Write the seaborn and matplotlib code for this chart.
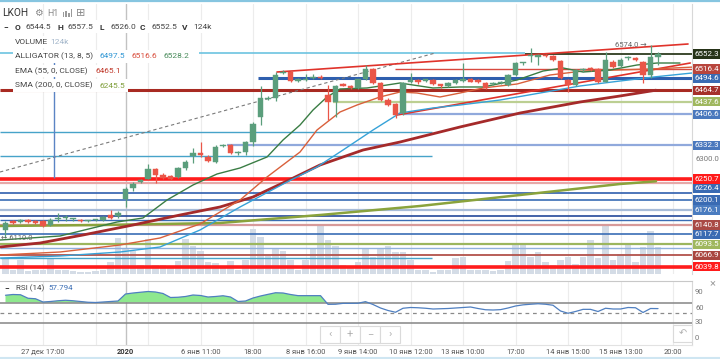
import matplotlib
matplotlib.use("Agg")
import matplotlib.pyplot as plt
import matplotlib.transforms as mtransforms
from matplotlib.patches import Rectangle
from matplotlib.lines import Line2D
import seaborn as sns
import numpy as np
import pandas as pd

# ---------------- data: LKOH hourly candles ----------------
opens = [6128, 6150, 6147, 6152, 6150, 6150, 6140, 6155, 6156, 6154,
         6151, 6150, 6152, 6152, 6164, 6162, 6204, 6229, 6245, 6252,
         6274, 6261, 6258, 6257, 6277, 6307, 6313, 6305, 6293, 6330,
         6334, 6313, 6317, 6341, 6401, 6445, 6446, 6506, 6510, 6488,
         6490, 6494, 6498, 6454, 6437, 6479, 6475, 6470, 6491, 6515,
         6482, 6442, 6432, 6409, 6486, 6490, 6487, 6490, 6479, 6474,
         6482, 6488, 6491, 6489, 6482, 6481, 6482, 6478, 6502, 6530,
         6548, 6546, 6550, 6548, 6536, 6490, 6478, 6513, 6518, 6515,
         6486, 6534, 6523, 6542, 6543, 6534, 6502, 6544.5]
highs = [6150, 6153, 6155, 6155, 6152, 6153, 6156, 6170, 6165, 6158,
         6154, 6153, 6155, 6162, 6176, 6173, 6232, 6243, 6252, 6286,
         6277, 6265, 6260, 6280, 6296, 6325, 6341, 6308, 6333, 6336,
         6336, 6318, 6343, 6388, 6474, 6450, 6510, 6514, 6513, 6494,
         6504, 6505, 6502, 6478, 6478, 6482, 6478, 6493, 6526, 6518,
         6485, 6446, 6435, 6486, 6507, 6493, 6493, 6492, 6481, 6485,
         6493, 6530, 6494, 6491, 6484, 6485, 6488, 6504, 6533, 6534,
         6566, 6553, 6553, 6550, 6539, 6493, 6517, 6519, 6522, 6518,
         6558, 6537, 6542, 6548, 6545, 6536, 6574, 6557.5]
lows = [6110, 6143, 6144, 6145, 6143, 6135, 6137, 6148, 6150, 6150,
        6147, 6147, 6149, 6150, 6155, 6158, 6184, 6222, 6242, 6250,
        6241, 6250, 6249, 6253, 6272, 6289, 6304, 6292, 6290, 6327,
        6311, 6310, 6310, 6330, 6381, 6442, 6440, 6503, 6485, 6485,
        6487, 6491, 6492, 6393, 6401, 6474, 6468, 6467, 6489, 6480,
        6440, 6428, 6398, 6405, 6483, 6481, 6484, 6478, 6471, 6472,
        6480, 6486, 6484, 6482, 6467, 6478, 6480, 6476, 6500, 6526,
        6534, 6526, 6544, 6535, 6492, 6461, 6475, 6510, 6512, 6483,
        6484, 6519, 6520, 6539, 6536, 6482, 6494, 6526]
closes = [6145, 6146, 6152, 6147, 6145, 6138, 6152, 6157, 6157, 6155,
          6150, 6151, 6153, 6160, 6158, 6170, 6226, 6240, 6249, 6274,
          6261, 6254, 6251, 6277, 6293, 6313, 6308, 6295, 6329, 6334,
          6313, 6315, 6341, 6384, 6446, 6447, 6502, 6510, 6488, 6491,
          6493, 6497, 6495, 6437, 6474, 6476, 6470, 6491, 6515, 6482,
          6442, 6430, 6405, 6482, 6490, 6484, 6491, 6480, 6474, 6482,
          6490, 6491, 6486, 6485, 6470, 6483, 6485, 6502, 6530, 6531,
          6550, 6550, 6547, 6538, 6494, 6478, 6514, 6516, 6516, 6486,
          6538, 6522, 6539, 6546, 6538, 6502, 6546, 6552.5]
volumes_k = [74, 18, 64, 14, 18, 18, 74, 18, 18, 14,
             9, 9, 14, 18, 55, 166, 120, 106, 41, 161,
             41, 41, 37, 60, 161, 129, 106, 55, 51, 37,
             60, 18, 64, 207, 170, 83, 115, 106, 64, 18,
             64, 120, 221, 156, 129, 41, 37, 55, 115, 78,
             120, 129, 101, 101, 64, 18, 18, 9, 18, 18,
             74, 78, 18, 18, 18, 14, 18, 60, 143, 143,
             78, 101, 55, 41, 64, 78, 46, 78, 156, 74,
             225, 64, 92, 143, 55, 124, 198, 124]
rsi14 = [84.5, 86, 85.5, 78.5, 77.5, 71, 72, 73.5, 74.5, 73.5,
         72, 70.5, 70, 71, 72, 73, 87, 89, 90.5, 92,
         91, 88, 80, 80.5, 82, 85, 84, 81, 82, 83.5,
         81, 72, 73, 79, 83, 86.3, 89.5, 89, 86, 83.7,
         83.7, 83.7, 83.7, 66.3, 66.5, 68.3, 68.3, 68.5, 71.7, 66,
         59, 54, 50.5, 58.5, 60, 59.5, 58.5, 57, 57.5, 58,
         59, 60, 61, 58, 55.5, 55, 55.7, 59, 63, 65.3,
         66.5, 67.5, 66.5, 64.5, 53, 48.5, 52, 56.3, 56.3, 52,
         58.5, 57, 57, 60, 59.5, 50, 58, 57.794]

time_tick_pos = [5, 16, 26, 33, 40, 47, 54, 61, 68, 75, 82, 89]
time_tick_labels = ['27 дек 17:00', '2020', '6 янв 11:00', '18:00', '8 янв 16:00',
                    '9 янв 14:00', '10 янв 12:00', '13 янв 10:00', '17:00',
                    '14 янв 15:00', '15 янв 13:00', '20:00']
grid_pos = [5, 12, 19, 26, 33, 40, 47, 54, 61, 68, 75, 82, 89]

# indicator curves (bar index, price)
lips_i = [-0.73, 7.27, 14.87, 18.33, 21.53, 25.0, 28.2, 31.27, 34.87, 37.0, 39.27, 41.0,
          42.87, 44.6, 48.2, 50.87, 52.6, 54.33, 57.0, 60.6, 63.67, 68.2, 71.67, 74.33,
          77.0, 80.6, 84.2, 86.87, 89.93]
lips_p = [6104.0, 6113.7, 6147.4, 6157.1, 6200.4, 6236.6, 6263.1, 6277.6, 6304.1, 6345.0,
          6381.2, 6417.3, 6448.7, 6468.0, 6470.4, 6477.6, 6482.4, 6477.6, 6470.4, 6472.8,
          6472.8, 6489.6, 6511.3, 6518.6, 6508.9, 6513.7, 6525.8, 6530.6, 6530.6]
teeth_i = [-0.73, 7.27, 15.27, 20.6, 25.93, 31.27, 34.87, 39.27, 41.53, 44.6, 46.87, 49.93,
           52.6, 54.87, 57.93, 60.6, 63.67, 68.2, 72.6, 77.0, 81.53, 86.73, 91.93]
teeth_p = [6067.9, 6075.1, 6092.0, 6108.9, 6142.6, 6200.4, 6255.9, 6316.1, 6369.1, 6412.5,
           6429.4, 6448.7, 6460.7, 6458.3, 6448.7, 6458.3, 6470.4, 6480.0, 6501.7, 6511.3,
           6513.7, 6516.6, 6521.0]
jaw_i = [-0.73, 7.27, 15.27, 20.6, 25.93, 31.27, 37.53, 41.53, 45.0, 49.0, 52.6, 57.0,
         60.6, 65.93, 71.27, 76.6, 81.93, 86.73, 91.53]
jaw_p = [6060.5, 6065.5, 6075.1, 6087.2, 6128.1, 6183.6, 6243.8, 6279.9, 6320.9, 6369.1,
         6410.1, 6422.2, 6429.4, 6441.4, 6458.3, 6475.2, 6487.2, 6497.5, 6506.5]
ema_i = [-0.73, 4.6, 10.33, 17.0, 23.27, 28.6, 33.0, 37.53, 41.93, 47.67, 52.6, 60.6,
         68.6, 76.6, 81.93, 86.73]
ema_p = [6087.2, 6096.8, 6116.1, 6140.2, 6164.3, 6183.6, 6207.7, 6246.2, 6284.8, 6320.9,
         6340.2, 6376.4, 6410.1, 6436.6, 6451.1, 6465.1]
sma_i = [-0.73, 12.6, 28.6, 41.93, 55.27, 68.6, 81.93, 86.73]
sma_p = [6137.8, 6140.2, 6145.0, 6164.3, 6186.0, 6212.5, 6239.0, 6245.5]

# horizontal drawing levels
level_prices = [6555.0, 6552.3, 6516.4, 6494.6, 6464.7, 6437.6, 6406.6, 6364.0, 6332.3,
                6306.0, 6250.7, 6240.5, 6218.0, 6200.1, 6176.1, 6162.0, 6152.0, 6140.8,
                6117.7, 6093.5, 6085.0, 6066.9, 6060.0, 6039.8]
# price-scale tags
tag_values = [6494.6, 6516.4, 6552.3, 6464.7, 6437.6, 6406.6, 6332.3, 6230.0, 6250.7,
              6200.1, 6176.1, 6117.7, 6140.8, 6093.5, 6066.9, 6039.8]
tag_texts = ['6494.6', '6516.4', '6552.3', '6464.7', '6437.6', '6406.6', '6332.3', '6226.4',
             '6250.7', '6200.1', '6176.1', '6117.7', '6140.8', '6093.5', '6066.9', '6039.8']
rsi_ticks = [90, 60, 30, 0]

# ---------------- styles ----------------
L_, R_ = -0.733, 91.53
level_styles = [
    (L_, 69.3, '#6cc3e0', 1.2), (69.3, R_, '#2d3b1f', 1.3), (51.9, R_, '#d8493f', 1.0),
    (33.7, R_, '#2f5fae', 2.2), (L_, R_, '#a82a22', 2.2), (43.7, R_, '#bccf92', 1.6),
    (52.2, R_, '#90a9dc', 1.6), (L_, 56.9, '#47a3c9', 1.0), (29.5, R_, '#90a9dc', 1.6),
    (L_, 56.9, '#47a3c9', 1.0), (L_, R_, '#ff1c1c', 2.6), (L_, R_, '#e6a9a9', 1.6),
    (L_, R_, '#2f5fae', 1.2), (L_, R_, '#3a6db5', 1.2), (L_, R_, '#a8bcd8', 1.6),
    (L_, R_, '#24489a', 1.2), (L_, R_, '#3a6db5', 1.0), (L_, R_, '#d79a9a', 1.6),
    (L_, R_, '#3a6db5', 1.2), (L_, R_, '#9cb65e', 1.6), (L_, R_, '#8fb0dc', 1.0),
    (L_, R_, '#b2524b', 1.3), (L_, 56.9, '#47a3c9', 1.0), (L_, R_, '#ff1c1c', 2.6)]
tag_colors = ['#3a6bb3', '#b8453d', '#263318', '#a5302a', '#9fb75e', '#4a78bd', '#4a78bd',
              '#3a6bb3', '#ff1a1a', '#3a6bb3', '#4a7cc0', '#3a6bb3', '#a94a45', '#9fb75e',
              '#a9463f', '#ff1a1a']

UP, DN = '#5b9e7c', '#ea5648'

sns.set_theme(style="white")
plt.rcParams['font.family'] = ['Roboto', 'DejaVu Sans']
plt.rcParams['axes.unicode_minus'] = False

W, H = 720, 359
fig = plt.figure(figsize=(W / 100, H / 100), dpi=100)
fig.patch.set_facecolor('white')


def box(x0, y0, x1, y1):
    return [x0 / W, 1 - y1 / H, (x1 - x0) / W, (y1 - y0) / H]


def fx(x):
    return x / W


def fy(y):
    return 1 - y / H


XLIM = (L_, R_)
YLIM = (6022.1, 6672.8)

axv = fig.add_axes(box(0, 4, 692, 274))
ax = fig.add_axes(box(0, 4, 692, 274))
axr = fig.add_axes(box(0, 281, 692, 345))
ax.set_facecolor('none')

df = pd.DataFrame({'i': np.arange(len(closes)), 'open': opens, 'high': highs, 'low': lows,
                   'close': closes, 'vol': volumes_k, 'rsi': rsi14})

# grid
for a in (axv, axr):
    for g in grid_pos:
        a.axvline(g, color='#ececec', lw=0.8, zorder=0)
    a.axvline(16, color='#c2c2c2', lw=1.0, zorder=0)

# volume
sns.barplot(x=df['i'], y=df['vol'], native_scale=True, ax=axv, color='#d4dce6',
            width=0.86, saturation=1, linewidth=0, zorder=1)
axv.set_ylim(0, 1242)
axv.set_xlim(*XLIM)

# levels
for p, (s, e, c, lw) in zip(level_prices, level_styles):
    ax.hlines(p, s, e, color=c, lw=lw, zorder=3)

# trend drawings
ax.plot([-0.733, 57.3], [6267.9, 6554.7], ls=(0, (3, 2.5)), color='#7a7a7a', lw=0.8, zorder=3)
ax.plot([36.2, 91.0], [6508.9, 6576.4], color='#e0332b', lw=1.2, zorder=3)
ax.plot([52.2, 91.3], [6405.3, 6530.6], color='#e0332b', lw=1.2, zorder=3)
ax.vlines(6.47, 6253.5, 6552.3, color='#5b84c4', lw=1.0, zorder=3)

# indicators
sns.lineplot(x=sma_i, y=sma_p, ax=ax, color='#8aa33c', linewidth=1.8, zorder=4, sort=False, estimator=None)
sns.lineplot(x=ema_i, y=ema_p, ax=ax, color='#a52a2a', linewidth=2.0, zorder=4, sort=False, estimator=None)
sns.lineplot(x=jaw_i, y=jaw_p, ax=ax, color='#36a2d8', linewidth=1.0, zorder=4, sort=False, estimator=None)
sns.lineplot(x=teeth_i, y=teeth_p, ax=ax, color='#d9603b', linewidth=1.0, zorder=4, sort=False, estimator=None)
sns.lineplot(x=lips_i, y=lips_p, ax=ax, color='#3a7d44', linewidth=1.0, zorder=4, sort=False, estimator=None)

# candles
for r in df.itertuples():
    c = UP if r.close >= r.open else DN
    ax.vlines(r.i, r.low, r.high, color=c, lw=0.9, zorder=6)
    body = max(abs(r.close - r.open), 2.4)
    ax.add_patch(Rectangle((r.i - 0.34, min(r.open, r.close)), 0.68, body,
                           facecolor=c, edgecolor=c, lw=0.3, zorder=7))

imax = int(np.argmax(highs))
ax.text(imax - 0.5, highs[imax], f"{highs[imax]:.1f} →", ha='right', va='center',
        fontsize=5.5, color='#666666', zorder=8)
imin = int(np.argmin(lows))
ax.text(imin - 0.6, lows[imin], f"← {lows[imin]:.1f}", ha='left', va='center',
        fontsize=5.5, color='#666666', zorder=8)

ax.set_xlim(*XLIM)
ax.set_ylim(*YLIM)

# price tags
blend = mtransforms.blended_transform_factory(fig.transFigure, ax.transData)
ax.text(fx(695), 6300, '6300.0', transform=blend, ha='left', va='center', fontsize=5.6,
        color='#777777', clip_on=False)
for k, (v, t, c) in enumerate(zip(tag_values, tag_texts, tag_colors)):
    ax.add_patch(Rectangle((fx(692.5), v - 11.5), 27.5 / W, 23.0, transform=blend,
                           facecolor=c, edgecolor='none', clip_on=False, zorder=20 + 2 * k))
    ax.text(fx(706.5), v, t, transform=blend, ha='center', va='center', fontsize=5.8,
            color='white', clip_on=False, zorder=21 + 2 * k)

# RSI
sns.lineplot(x=df['i'], y=df['rsi'], ax=axr, color='#4f7fc0', linewidth=0.9, zorder=4,
             sort=False, estimator=None)
rv = np.array(rsi14)
axr.fill_between(df['i'], rv, 70, where=rv > 70, interpolate=True, color='#8ee88e', zorder=2, lw=0)
axr.axhline(70, color='#858585', lw=1.1, zorder=3)
axr.axhline(30, color='#858585', lw=1.1, zorder=3)
axr.axhline(50, color='#8a8a8a', lw=0.9, ls=(0, (3, 3)), zorder=3)
axr.set_xlim(*XLIM)
axr.set_ylim(-15, 113)
rblend = mtransforms.blended_transform_factory(fig.transFigure, axr.transData)
for t in rsi_ticks:
    axr.text(fx(695), t, str(t), transform=rblend, ha='left', va='center', fontsize=5.5,
             color='#777777', clip_on=False)

# time labels
tblend = mtransforms.blended_transform_factory(axr.transData, fig.transFigure)
for p, s in zip(time_tick_pos, time_tick_labels):
    axr.text(p, fy(352), s, transform=tblend, ha='center', va='center', fontsize=5.4,
             color='#333333' if s == '2020' else '#555555',
             fontweight='bold' if s == '2020' else 'normal', clip_on=False)

for a in (axv, ax, axr):
    a.set_xticks([])
    a.set_yticks([])
    a.set_xlabel('')
    a.set_ylabel('')
    for sp in a.spines.values():
        sp.set_visible(False)
ax.spines['right'].set_visible(True)
ax.spines['right'].set_color('#d8d8d8')
ax.spines['right'].set_linewidth(0.8)
for side, col in (('top', '#c8c8c8'), ('right', '#d8d8d8'), ('bottom', '#e2e2e2')):
    axr.spines[side].set_visible(True)
    axr.spines[side].set_color(col)
    axr.spines[side].set_linewidth(0.8)

# borders
fig.add_artist(Line2D([0, 1], [fy(0.8)] * 2, color='#86c5e0', lw=1.6, transform=fig.transFigure))
fig.add_artist(Line2D([0, 1], [fy(358.3)] * 2, color='#cfe6f2', lw=1.5, transform=fig.transFigure))


def ftext(x, y, s, color='#333333', size=6.0, weight='normal', ha='left'):
    return fig.text(fx(x), fy(y), s, color=color, fontsize=size, fontweight=weight,
                    ha=ha, va='center', zorder=5)


def wbox(x0, y0, x1, y1, fc='white', ec='none'):
    fig.add_artist(Rectangle((fx(x0), fy(y1)), (x1 - x0) / W, (y1 - y0) / H,
                             transform=fig.transFigure, facecolor=fc, edgecolor=ec,
                             lw=0.8, zorder=4))


# header
ftext(2, 12.5, 'LKOH', size=7.3, color='#333333')
ftext(34, 12.5, '⚙', size=7, color='#888888')
ftext(47, 13.5, 'H1', size=6.3, color='#8a8a8a')
for bx, bh in zip([62.5, 65.2, 67.9, 70.6], [4, 6, 3.5, 7]):
    fig.add_artist(Rectangle((fx(bx), fy(16.5)), 1.6 / W, bh / H, transform=fig.transFigure,
                             facecolor='#9a9a9a', edgecolor='none', zorder=5))
ftext(76, 12.5, '⊞', size=8, color='#8a8a8a')

wbox(0, 20, 215, 33)
row = [(3, '−', True, '#333333'), (15, 'O', True, '#333333'), (25, '6544.5', False, '#444444'),
       (57, 'H', True, '#333333'), (68, '6557.5', False, '#444444'), (100, 'L', True, '#333333'),
       (110, '6526.0', False, '#444444'), (140, 'C', True, '#333333'), (151, '6552.5', False, '#444444'),
       (182, 'V', True, '#333333'), (193, '124k', False, '#444444')]
for x, s, b, c in row:
    ftext(x, 27, s, color=c, weight='bold' if b else 'normal')

wbox(13, 36, 75, 48)
ftext(15, 42, 'VOLUME', color='#444444')
ftext(50, 42, '124k', color='#a3b6ca')

wbox(13, 50, 199, 63)
ftext(15, 56.5, 'ALLIGATOR (13, 8, 5)', color='#444444')
ftext(100, 56.5, '6497.5', color='#2f96d4')
ftext(132, 56.5, '6516.6', color='#d84b3a')
ftext(163, 56.5, '6528.2', color='#4a8c5c')

wbox(13, 65, 123, 77)
ftext(15, 71, 'EMA (55, 0, CLOSE)', color='#444444')
ftext(95, 71, '6465.1', color='#c0392b')

wbox(13, 79, 128, 92)
ftext(15, 85.5, 'SMA (200, 0, CLOSE)', color='#444444')
ftext(100, 85.5, '6245.5', color='#7f9e3a')

# RSI legend
ftext(4, 288, '−', weight='bold')
ftext(16, 288, 'RSI (14)', color='#444444', size=5.8)
ftext(48, 288, '57.794', color='#3d6fb5', size=5.8)
ftext(713, 283, '×', color='#a0a0a0', size=8, ha='center')

# navigation buttons
for x0, sym in [(320, '‹'), (340, '+'), (360, '−'), (380, '›')]:
    wbox(x0, 326, x0 + 20, 343, ec='#dadada')
    ftext(x0 + 10, 334.5, sym, color='#b0b0b0', size=8, ha='center')
wbox(673, 325, 692, 342, ec='#dadada')
ftext(682.5, 333.5, '↶', color='#b0b0b0', size=7, ha='center')

fig.savefig('out.png', dpi=100)
